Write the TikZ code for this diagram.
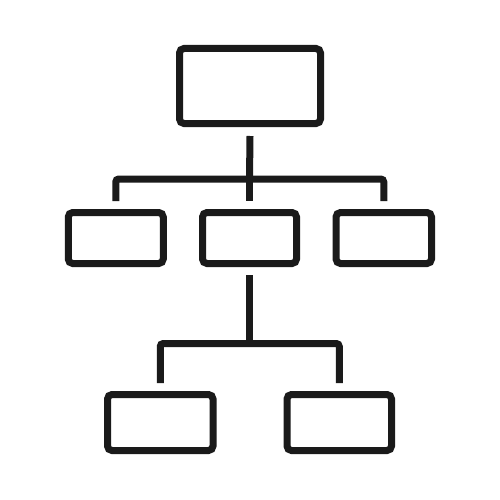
\documentclass[tikz,border=0pt]{standalone}
\usetikzlibrary{calc}
\definecolor{ink}{HTML}{1A1A1A}
\begin{document}
\begin{tikzpicture}[x=1pt,y=-1pt,
  orgbox/.style={draw=ink,line width=7pt,rounded corners=4.5pt,inner sep=0pt,fill=white},
  link/.style={draw=ink,line width=7pt,line cap=butt,rounded corners=3pt}]
\fill[white] (0,0) rectangle (500,500);
\useasboundingbox (0,0) rectangle (500,500);
\node[orgbox,minimum width=141pt,minimum height=75pt] (top) at (250,86) {};
\node[orgbox,minimum width=95pt,minimum height=51pt] (ml) at (115.75,238) {};
\node[orgbox,minimum width=94pt,minimum height=51pt] (mc) at (249.5,238) {};
\node[orgbox,minimum width=95.5pt,minimum height=51pt] (mr) at (383.75,238) {};
\node[orgbox,minimum width=105.5pt,minimum height=56pt] (bl) at (160.25,422.5) {};
\node[orgbox,minimum width=104.5pt,minimum height=56pt] (br) at (339.25,422.5) {};
\coordinate (j1) at (249.5,179);
\coordinate (j2) at (249.5,343.5);
% first level
\draw[link] ([yshift=-9pt]top.south) -- (j1);
\draw[link] ([yshift=8pt]ml.north) |- (j1) -| ([yshift=8pt]mr.north);
\draw[link] (j1) -- ([yshift=8pt]mc.north);
% second level
\draw[link] ([yshift=-8pt]mc.south) -- (j2);
\draw[link] ([yshift=8pt]bl.north) |- (j2) -| ([yshift=8pt]br.north);
\end{tikzpicture}
\end{document}
